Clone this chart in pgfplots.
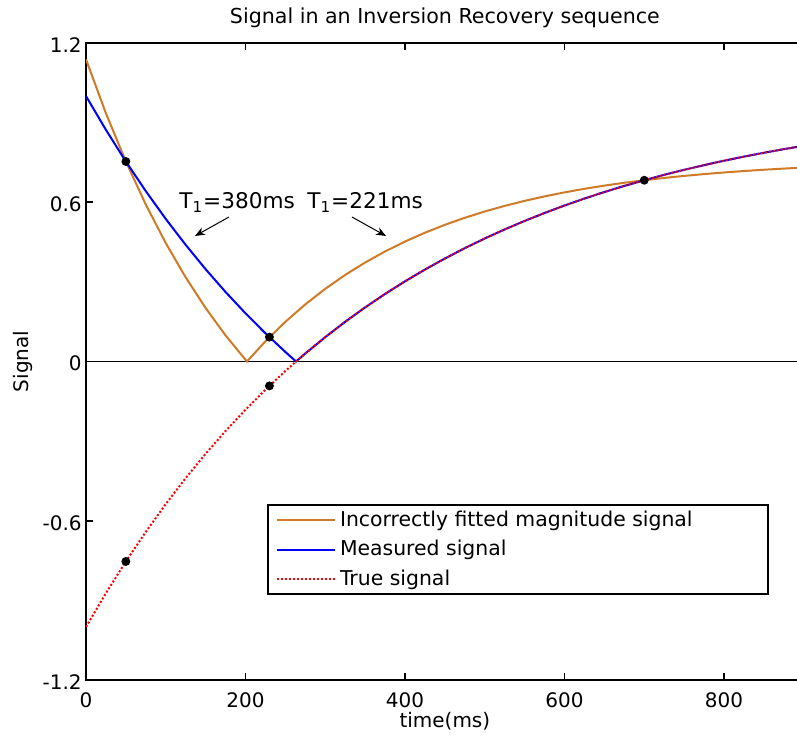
\documentclass[border=0pt]{standalone}
\usepackage{fontspec}
\setmainfont{DejaVu Sans}
\usepackage{pgfplots}
\pgfplotsset{compat=1.18}
\usetikzlibrary{arrows.meta}

\definecolor{fitorange}{RGB}{207,122,38}

\begin{document}
\begin{tikzpicture}
% the reference is cut just inside the right edge of the axis box
\path[use as bounding box] (-43pt,-31.5pt) rectangle (355.5pt,340pt);
\clip (-43pt,-31.5pt) rectangle (355.5pt,340pt);
\begin{axis}[
  scale only axis,
  width=358.875pt, height=318.5pt,
  xmin=0, xmax=900, ymin=-1.2, ymax=1.2,
  xtick={0,200,400,600,800},
  ytick={-1.2,-0.6,0,0.6,1.2},
  tick align=inside,
  major tick length=3.5pt,
  every tick/.style={black, line width=0.8pt},
  axis line style={line width=1pt},
  /pgf/number format/assume math mode=true,
  tick label style={font=\fontsize{10}{12}\selectfont},
  xticklabel style={anchor=base, yshift=-13.75pt},
  yticklabel style={anchor=east, inner sep=0pt, xshift=-2pt, yshift=-1pt,
    /pgf/number format/fixed, /pgf/number format/precision=1},
  title={Signal in an Inversion Recovery sequence},
  every axis title shift=0pt,
  title style={at={(axis description cs:0.5,1.0309)}, anchor=base, font=\fontsize{10.3}{12}\selectfont},
  xlabel={time(ms)},
  xlabel style={at={(axis description cs:0.5,-0.0745)}, anchor=base, font=\fontsize{10}{12}\selectfont},
  ylabel={Signal},
  ylabel style={at={(axis description cs:-0.0808,0.5)}, anchor=base, rotate=0, font=\fontsize{10}{12}\selectfont},
  legend style={at={(0.2522,0.2763)}, anchor=north west, draw=black, line width=1pt,
    inner xsep=4pt, inner ysep=1pt, row sep=1.4pt,
    font=\fontsize{10.2}{12}\selectfont, cells={anchor=west}},
  legend image code/.code={\draw[#1] (0pt,0pt) -- (29pt,0pt);},
  legend cell align=left,
]
% zero line
\addplot[black, line width=0.7pt, forget plot] coordinates {(0,0) (900,0)};

\addplot[fitorange, line width=1pt] coordinates {
(0,1.1384) (25,0.9350) (50,0.7534) (75,0.5912) (100,0.4463) (125,0.3170)
(150,0.2015) (175,0.0983) (201.8,0) (225,0.0761) (250,0.1496) (275,0.2152)
(300,0.2738) (325,0.3262) (350,0.3729) (375,0.4146) (400,0.4519) (425,0.4852)
(450,0.5149) (475,0.5415) (500,0.5652) (525,0.5863) (550,0.6052) (575,0.6221)
(600,0.6372) (625,0.6507) (650,0.6627) (675,0.6734) (700,0.6830) (725,0.6916)
(750,0.6992) (775,0.7061) (800,0.7122) (825,0.7176) (850,0.7225) (875,0.7268)
(900,0.7307)
};
\addlegendentry{Incorrectly fitted magnitude signal\hspace*{31.5pt}}

\addplot[blue, line width=1pt] coordinates {
(0,1) (25,0.8727) (50,0.7534) (75,0.6418) (100,0.5372) (125,0.4394)
(150,0.3477) (175,0.2619) (200,0.1816) (225,0.1063) (250,0.0359) (263.4,0)
(275,0.0301) (300,0.0918) (325,0.1497) (350,0.2038) (375,0.2545) (400,0.3020)
(425,0.3464) (450,0.3880) (475,0.4270) (500,0.4635) (525,0.4976) (550,0.5296)
(575,0.5596) (600,0.5876) (625,0.6139) (650,0.6385) (675,0.6615) (700,0.6830)
(725,0.7032) (750,0.7221) (775,0.7398) (800,0.7564) (825,0.7719) (850,0.7864)
(875,0.8000) (900,0.8127)
};
\addlegendentry{Measured signal}

\addplot[red, line width=1pt, dash pattern=on 1pt off 1pt] coordinates {
(0,-1) (25,-0.8727) (50,-0.7534) (75,-0.6418) (100,-0.5372) (125,-0.4394)
(150,-0.3477) (175,-0.2619) (200,-0.1816) (225,-0.1063) (250,-0.0359) (263.4,0)
(275,0.0301) (300,0.0918) (325,0.1497) (350,0.2038) (375,0.2545) (400,0.3020)
(425,0.3464) (450,0.3880) (475,0.4270) (500,0.4635) (525,0.4976) (550,0.5296)
(575,0.5596) (600,0.5876) (625,0.6139) (650,0.6385) (675,0.6615) (700,0.6830)
(725,0.7032) (750,0.7221) (775,0.7398) (800,0.7564) (825,0.7719) (850,0.7864)
(875,0.8000) (900,0.8127)
};
\addlegendentry{True signal}

% sampled points
\addplot[only marks, mark=*, mark size=2pt, black, forget plot] coordinates {
(50,0.7534) (230,0.0919) (230,-0.0919) (50,-0.7534) (700,0.6830)
};

\node[anchor=base west, inner sep=0pt, font=\fontsize{10.8}{12}\selectfont]
  at (axis cs:116.6,0.5746) {T\textsubscript{1}=380ms};
\node[anchor=base west, inner sep=0pt, font=\fontsize{10.8}{12}\selectfont]
  at (axis cs:277.1,0.5746) {T\textsubscript{1}=221ms};
\draw[-{Stealth[length=5pt,width=4pt]}, line width=0.5pt]
  (axis cs:179.3,0.5444) -- (axis cs:136.7,0.4729);
\draw[-{Stealth[length=5pt,width=4pt]}, line width=0.5pt]
  (axis cs:333.5,0.5444) -- (axis cs:376.2,0.4729);
\end{axis}
\end{tikzpicture}
\end{document}
